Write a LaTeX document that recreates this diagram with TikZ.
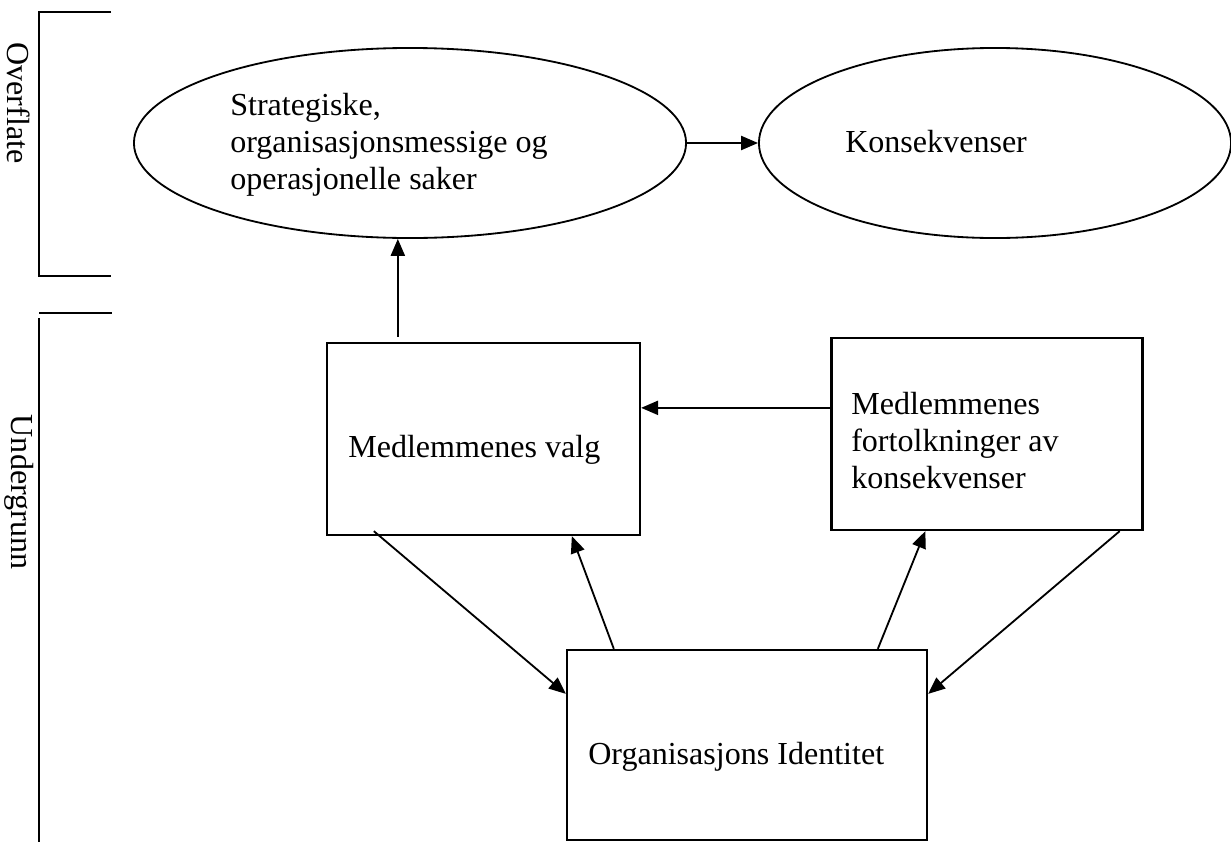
\documentclass[tikz,border=0pt]{standalone}
\usepackage{fontspec}
\setmainfont{Liberation Serif}
\usetikzlibrary{shapes.geometric,arrows.meta,calc}

\begin{document}
\begin{tikzpicture}[x=0.025cm, y=-0.025cm,
    every node/.style={font=\fontsize{22.8}{26.3}\selectfont, inner sep=0pt},
    oval/.style={draw, ellipse, line width=1.3pt},
    box/.style={draw, rectangle, line width=1.6pt},
    txt/.style={anchor=base west, align=left},
    brk/.style={line width=1.4pt},
    arr/.style={-{Triangle[length=12pt,width=10pt]}, line width=1.3pt}]
    \useasboundingbox (0,0) rectangle (1231,842);

    % Side brackets
    \draw[brk] (111,12) -- (39,12) -- (39,276) -- (111,276);
    \node[rotate=-90] (overflate) at (19,103) {Overflate};
    \draw[brk] (39,313) -- (112,313);
    \draw[brk] (39,318) -- (39,842);
    \node[rotate=-90] (undergrunn) at (19,492) {Undergrunn};

    % Surface
    \node[oval, minimum width=13.8cm, minimum height=4.75cm] (saker) at (410,143) {};
    \node[txt] (sakertxt) at (230,189) {Strategiske,\\organisasjonsmessige og\\operasjonelle saker};
    \node[oval, minimum width=11.8cm, minimum height=4.75cm] (kons) at (995,143) {};
    \node[txt] (konstxt) at (845,152) {Konsekvenser};

    % Underground
    \node[box, minimum width=7.825cm, minimum height=4.8cm] (valg) at (483.5,439) {};
    \node[txt] (valgtxt) at (348,457) {Medlemmenes valg};
    \node[box, minimum width=7.775cm, minimum height=4.8cm] (fortolk) at (987,434) {};
    \node[txt] (fortolktxt) at (851,488) {Medlemmenes\\fortolkninger av\\konsekvenser};
    \node[box, minimum width=9cm, minimum height=4.75cm] (ident) at (747,745) {};
    \node[txt] (identtxt) at (588,764) {Organisasjons Identitet};

    % Arrows
    \draw[arr] (saker.east) -- (kons.west);
    \coordinate (valgtop) at ($(valg.north west)+(72,-5)$);
    \draw[arr] (valgtop) -- (valgtop |- saker.south);
    \coordinate (fortolkleft) at ($(fortolk.north west)+(0,71)$);
    \draw[arr] (fortolkleft) -- (fortolkleft -| valg.east);
    \draw[arr] ($(valg.south west)+(48,-5)$) -- ($(ident.north west)+(0,45)$);
    \draw[arr] ($(ident.north west)+(48,0)$) -- ($(valg.south west)+(246,0)$);
    \draw[arr] ($(ident.north west)+(312,0)$) -- ($(fortolk.south west)+(95,0)$);
    \draw[arr] ($(fortolk.south east)+(-24,0)$) -- ($(ident.north east)+(0,45)$);
\end{tikzpicture}
\end{document}
